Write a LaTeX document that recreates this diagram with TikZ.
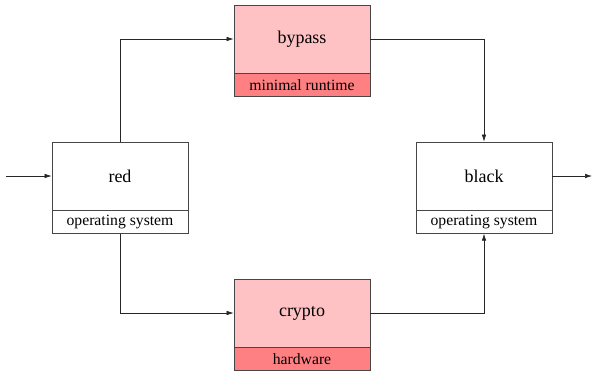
\documentclass[tikz,border=0pt]{standalone}
\usepackage{fontspec}
\setmainfont{Liberation Serif}
\usetikzlibrary{arrows.meta}
\definecolor{lightpink}{RGB}{255,194,196}
\definecolor{darkpink}{RGB}{255,128,130}
\definecolor{boxline}{RGB}{70,70,70}
\begin{document}
\begin{tikzpicture}[x=1pt,y=-1pt,
  mainbox/.style={draw=boxline,line width=0.8pt,minimum width=136pt,minimum height=68pt,inner sep=0pt,font=\fontsize{18}{20}\selectfont},
  subbox/.style={draw=boxline,line width=0.8pt,minimum width=136pt,minimum height=22.5pt,inner sep=0pt,font=\fontsize{15.7}{17}\selectfont},
  conn/.style={draw=black!85,line width=0.6pt,-{Latex[length=7pt,width=4.5pt]}}]
\useasboundingbox (0,0) rectangle (594,372);
% boxes
\node[mainbox,fill=lightpink] (bypass) at (302,39) {bypass};
\node[subbox,fill=darkpink,anchor=north] (bypasssub) at (bypass.south) {minimal runtime};
\node[mainbox,fill=white] (red) at (120,176) {red};
\node[subbox,fill=white,anchor=north] (redsub) at (red.south) {operating system};
\node[mainbox,fill=white] (black) at (484,176) {black};
\node[subbox,fill=white,anchor=north] (blacksub) at (black.south) {operating system};
\node[mainbox,fill=lightpink] (crypto) at (302,313) {crypto};
\node[subbox,fill=darkpink,anchor=north] (cryptosub) at (crypto.south) {hardware};
% free ends
\coordinate (in) at (6,176);
\coordinate (out) at (592,176);
% connectors
\draw[conn] (in) -- (red.west);
\draw[conn] (red.north) |- (bypass.west);
\draw[conn] (bypass.east) -| (black.north);
\draw[conn] (redsub.south) |- (crypto.west);
\draw[conn] (crypto.east) -| (blacksub.south);
\draw[conn] (black.east) -- (out);
\end{tikzpicture}
\end{document}
